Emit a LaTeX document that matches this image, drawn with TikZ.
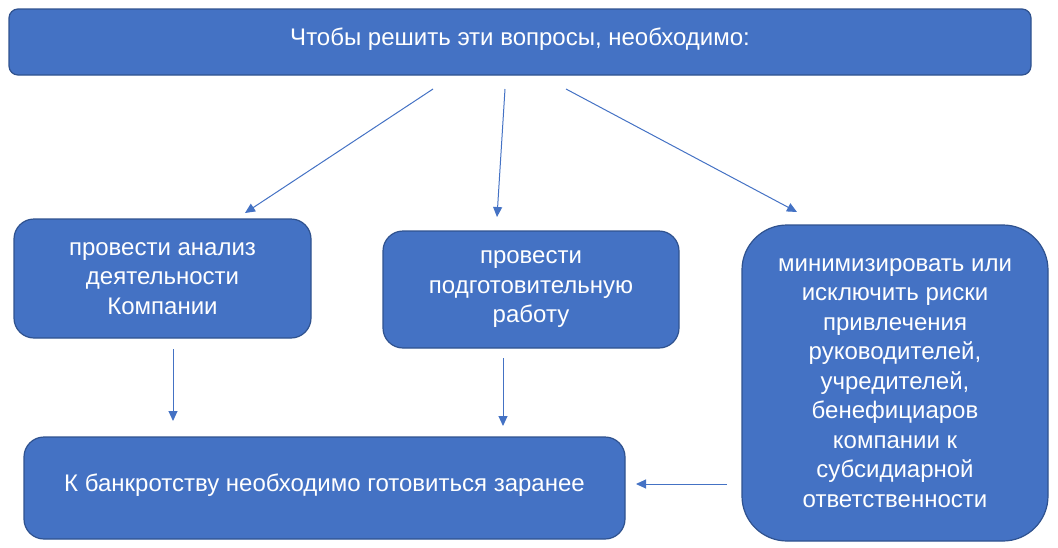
\documentclass[tikz,border=0pt]{standalone}
\usepackage{fontspec}
\setmainfont{Liberation Sans}
\usetikzlibrary{arrows.meta}
\definecolor{boxfill}{HTML}{4472C4}
\definecolor{boxline}{HTML}{2F528F}
\begin{document}
\begin{tikzpicture}[x=1pt,y=-1pt,
  box/.style={draw=boxline, line width=1.2pt, fill=boxfill, text=white, align=center,
    inner sep=0pt, font=\fontsize{24}{29.5}\selectfont},
  arr/.style={draw=boxfill, line width=1pt, -{Triangle[length=10pt,width=9pt]}}]
\useasboundingbox (0,0) rectangle (1058,547);
\node[box, rounded corners=9pt, minimum width=1022pt, minimum height=66pt] (top) at (520,42) {\raisebox{10pt}{Чтобы решить эти вопросы, необходимо:}};
\node[box, rounded corners=20pt, minimum width=297pt, minimum height=119pt] (b1) at (162.5,278.5) {провести анализ\\деятельности\\Компании};
\node[box, rounded corners=20pt, minimum width=296pt, minimum height=117pt] (b2) at (531,289.5) {\raisebox{-3pt}{\parbox{290pt}{\centering провести\\подготовительную\\работу}}};
\node[box, rounded corners=45pt, minimum width=306pt, minimum height=316pt] (b3) at (895,383) {минимизировать или\\исключить риски\\привлечения\\руководителей,\\учредителей,\\бенефициаров\\компании к\\субсидиарной\\ответственности};
\node[box, rounded corners=20pt, minimum width=601pt, minimum height=102pt] (res) at (324.5,488) {\raisebox{11pt}{К банкротству необходимо готовиться заранее}};
\coordinate (s1) at (433,89);
\coordinate (e1) at (245,213);
\coordinate (s2) at (505,89);
\coordinate (e2) at (497,217);
\coordinate (s3) at (566,89);
\coordinate (e3) at (797,212);
\coordinate (s4) at (173,349);
\coordinate (e4) at (173,421);
\coordinate (s5) at (503,358);
\coordinate (e5) at (503,426);
\coordinate (s6) at (727,484);
\coordinate (e6) at (636,484);
\draw[arr] (s1) -- (e1);
\draw[arr] (s2) -- (e2);
\draw[arr] (s3) -- (e3);
\draw[arr] (s4) -- (e4);
\draw[arr] (s5) -- (e5);
\draw[arr] (s6) -- (e6);
\end{tikzpicture}
\end{document}
